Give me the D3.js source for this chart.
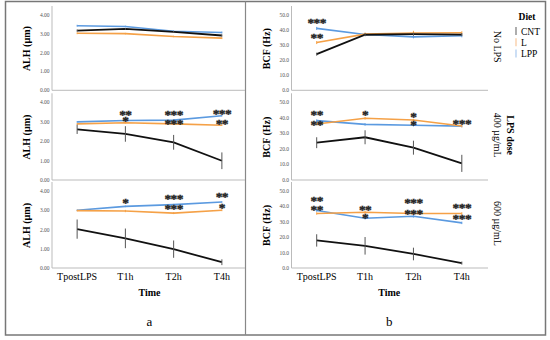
<!DOCTYPE html>
<html>
<head>
<meta charset="utf-8">
<script src="https://cdn.jsdelivr.net/npm/d3@7"></script>
<style>
  body { margin: 0; background: #fff; }
  text { font-family: "Liberation Serif", "DejaVu Serif", serif; }
</style>
</head>
<body>
<svg id="chart"></svg>
<script>
// categories
const times = ["TpostLPS", "T1h", "T2h", "T4h"];
const diets = ["CNT", "L", "LPP"];
const rowLabels = ["No LPS", "400 µg/mL", "600 µg/mL"];

// ALH (µm), one array per LPS row
const alhCNT = [[3.17, 3.26, 3.10, 2.91], [2.61, 2.37, 1.94, 0.99], [2.02, 1.54, 0.98, 0.30]];
const alhL   = [[3.03, 3.01, 2.86, 2.77], [2.89, 2.95, 2.89, 2.82], [2.98, 2.96, 2.85, 3.00]];
const alhLPP = [[3.43, 3.39, 3.14, 3.07], [2.99, 3.06, 3.08, 3.31], [3.00, 3.20, 3.29, 3.43]];
const alhErrCNT = [[0.06, 0.05, 0.05, 0.06], [0.24, 0.40, 0.38, 0.43], [0.50, 0.51, 0.45, 0.15]];
const alhErrL   = [[0.05, 0.04, 0.04, 0.05], [0.04, 0.04, 0.04, 0.04], [0.04, 0.06, 0.05, 0.05]];
const alhErrLPP = [[0.05, 0.04, 0.05, 0.05], [0.04, 0.04, 0.04, 0.04], [0.04, 0.04, 0.04, 0.04]];

// BCF (Hz)
const bcfCNT = [[24.0, 36.9, 37.3, 37.0], [24.0, 27.5, 20.8, 10.7], [17.9, 14.4, 9.1, 3.2]];
const bcfL   = [[31.7, 37.3, 38.0, 38.2], [36.0, 39.7, 38.6, 34.7], [35.4, 36.2, 35.4, 35.4]];
const bcfLPP = [[41.1, 37.1, 35.5, 36.2], [38.2, 35.8, 35.2, 34.7], [37.3, 32.3, 33.6, 29.3]];
const bcfErrCNT = [[1.0, 1.0, 1.0, 1.0], [3.5, 4.5, 4.5, 5.5], [4.0, 5.7, 4.1, 1.0]];
const bcfErrL   = [[1.0, 1.0, 1.5, 1.0], [0.8, 0.8, 0.8, 0.8], [0.8, 0.8, 0.8, 0.8]];
const bcfErrLPP = [[1.0, 1.0, 1.0, 1.0], [0.8, 0.8, 0.8, 0.8], [0.8, 0.8, 0.8, 0.8]];

// significance marks: [row, time index, label, value]
const alhStars = [
  [1, 1, "**", 3.49], [1, 1, "*", 3.18],
  [1, 2, "***", 3.49], [1, 2, "***", 3.04],
  [1, 3, "***", 3.56], [1, 3, "**", 3.04],
  [2, 1, "*", 3.54],
  [2, 2, "***", 3.72], [2, 2, "***", 3.23],
  [2, 3, "**", 3.84], [2, 3, "*", 3.28]
];
const bcfStars = [
  [0, 0, "***", 46.4], [0, 0, "**", 36.4],
  [1, 0, "**", 43.6], [1, 0, "**", 37.5],
  [1, 1, "*", 43.6],
  [1, 2, "*", 42.5], [1, 2, "*", 37.5],
  [1, 3, "***", 38.2],
  [2, 0, "**", 45.7], [2, 0, "**", 39.7],
  [2, 1, "**", 39.7], [2, 1, "*", 34.3],
  [2, 2, "***", 44.0], [2, 2, "***", 37.1],
  [2, 3, "***", 41.2], [2, 3, "***", 33.6]
];

const colors = { CNT: "#111", L: "#f5a147", LPP: "#5b9ae0" };
const legendColors = { CNT: "#777", L: "#f9c79a", LPP: "#a9c9ee" };

const width = 550, height = 340;
const svg = d3.select("#chart").attr("width", width).attr("height", height);

// frame
svg.append("rect").attr("x", 5.5).attr("y", 1.5).attr("width", 540).attr("height", 333.5)
  .attr("fill", "none").attr("stroke", "#777").attr("stroke-width", 1.5);
svg.append("line").attr("x1", 245.5).attr("x2", 245.5).attr("y1", 1.5).attr("y2", 335)
  .attr("stroke", "#888").attr("stroke-width", 1.2);

const rowTop = [15, 102.3, 191];
const rowBottom = [90.3, 180, 268];

function drawPanel(opt) {
  const x = d3.scalePoint().domain(times).range(opt.xRange).padding(0.5);
  const series = { CNT: opt.cnt, L: opt.l, LPP: opt.lpp };
  const errs = { CNT: opt.errCnt, L: opt.errL, LPP: opt.errLpp };

  rowTop.forEach((top, r) => {
    const y = d3.scaleLinear().domain([0, opt.max]).range([rowBottom[r], top]);
    const g = svg.append("g");

    // axes lines
    g.append("line").attr("x1", opt.xRange[0] - 1).attr("x2", opt.lineEnd)
      .attr("y1", y(0)).attr("y2", y(0)).attr("stroke", "#bbb");
    g.append("line").attr("x1", opt.xRange[0] - 1).attr("x2", opt.xRange[0] - 1)
      .attr("y1", top - 9).attr("y2", y(0)).attr("stroke", "#bbb");

    g.selectAll(".tick").data(d3.range(0, opt.max + 0.001, opt.step)).enter()
      .append("text")
      .attr("x", opt.xRange[0] - 3.5).attr("y", d => y(d) + 2)
      .attr("text-anchor", "end").attr("font-size", 5.5).attr("fill", "#555")
      .text(d => d3.format(opt.fmt)(d));

    // y title
    g.append("text")
      .attr("transform", `translate(${opt.titleX}, ${(top + rowBottom[r]) / 2 - 4}) rotate(-90)`)
      .attr("text-anchor", "middle").attr("font-size", 10).attr("font-weight", "bold")
      .attr("dy", "0.35em").text(opt.title);

    // lines and error bars, CNT drawn last
    ["LPP", "L", "CNT"].forEach(dk => {
      const vals = series[dk][r].map((v, i) => ({ t: times[i], v: v, e: errs[dk][r][i] }));
      g.append("path").datum(vals)
        .attr("fill", "none").attr("stroke", colors[dk])
        .attr("stroke-width", dk === "CNT" ? 1.8 : 1.6)
        .attr("d", d3.line().x(d => x(d.t)).y(d => y(d.v)));
      g.selectAll(null).data(vals).enter().append("line")
        .attr("x1", d => x(d.t)).attr("x2", d => x(d.t))
        .attr("y1", d => y(d.v - d.e)).attr("y2", d => y(d.v + d.e))
        .attr("stroke", dk === "CNT" ? "#555" : colors[dk]).attr("stroke-width", 1);
    });

    // stars (stroked so they render dark and heavy)
    g.selectAll(null).data(opt.stars.filter(s => s[0] === r)).enter().append("text")
      .attr("x", d => x(times[d[1]])).attr("y", d => y(d[3]) + 7)
      .attr("text-anchor", "middle").attr("font-size", 13.5).attr("font-weight", "bold")
      .attr("fill", "#222").attr("stroke", "#222").attr("stroke-width", 0.35)
      .attr("letter-spacing", "-0.6px")
      .text(d => d[2]);
  });

  // x tick labels
  svg.selectAll(null).data(times).enter().append("text")
    .attr("x", d => x(d)).attr("y", 279.5)
    .attr("text-anchor", "middle").attr("font-size", 10).text(d => d);
  const mid = (opt.xRange[0] + opt.xRange[1]) / 2;
  svg.append("text").attr("x", mid).attr("y", 296)
    .attr("text-anchor", "middle").attr("font-size", 10).attr("font-weight", "bold").text("Time");
  svg.append("text").attr("x", mid).attr("y", 326)
    .attr("text-anchor", "middle").attr("font-size", 13).text(opt.letter);
}

drawPanel({
  xRange: [53, 246], lineEnd: 245, max: 4, step: 1, fmt: ".2f",
  title: "ALH (µm)", titleX: 26, letter: "a",
  cnt: alhCNT, l: alhL, lpp: alhLPP,
  errCnt: alhErrCNT, errL: alhErrL, errLpp: alhErrLPP, stars: alhStars
});
drawPanel({
  xRange: [292.5, 486], lineEnd: 488, max: 50, step: 10, fmt: ".1f",
  title: "BCF (Hz)", titleX: 266, letter: "b",
  cnt: bcfCNT, l: bcfL, lpp: bcfLPP,
  errCnt: bcfErrCNT, errL: bcfErrL, errLpp: bcfErrLPP, stars: bcfStars
});

// row labels on the right
const rowCenters = rowTop.map((t, i) => (t + rowBottom[i]) / 2 - 6);
svg.selectAll(null).data(rowLabels).enter().append("text")
  .attr("transform", (d, i) => `translate(493.5, ${rowCenters[i]}) rotate(90)`)
  .attr("text-anchor", "middle").attr("font-size", 10).text(d => d);
svg.append("text")
  .attr("transform", `translate(507, ${rowCenters[1]}) rotate(90)`)
  .attr("text-anchor", "middle").attr("font-size", 10).attr("font-weight", "bold").text("LPS dose");

// legend
svg.append("text").attr("x", 527).attr("y", 19.5).attr("text-anchor", "middle")
  .attr("font-size", 9.5).attr("font-weight", "bold").text("Diet");
const leg = svg.selectAll(".leg").data(diets).enter().append("g")
  .attr("transform", (d, i) => `translate(516, ${31 + i * 11.2})`);
leg.append("line").attr("x1", 0).attr("x2", 0).attr("y1", -4).attr("y2", 4)
  .attr("stroke", d => legendColors[d]).attr("stroke-width", 1.2);
leg.append("text").attr("x", 5).attr("y", 3.5).attr("font-size", 9.5).text(d => d);
</script>
</body>
</html>
